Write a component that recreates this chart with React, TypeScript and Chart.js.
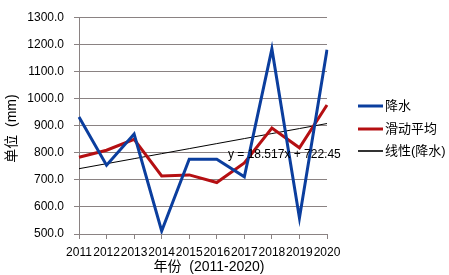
import React, { useEffect, useRef } from "react";
import { Chart, registerables } from "chart.js";

Chart.register(...registerables);

const years = ["2011", "2012", "2013", "2014", "2015", "2016", "2017", "2018", "2019", "2020"];
const precipitation = [932, 754, 869, 511, 776, 776, 711, 1183, 559, 1180];
const movingAverage = [783, 809, 849, 714, 718, 690, 762, 891, 818, 976];
const trendSlope = 18.517;
const trendIntercept = 722.45;
const seriesLabels = ["降水", "滑动平均", "线性(降水)"];
const seriesColors = ["#0B3E9E", "#B50F12", "#000000"];
const yTitle = "单位  (mm)";
const xTitle = "年份  (2011-2020)";

const FONT = "'Liberation Sans', Arial, 'Noto Sans CJK SC', sans-serif";
const GRID = "#8a8282";

export default function App() {
  const ref = useRef<HTMLCanvasElement | null>(null);
  useEffect(() => {
    if (!ref.current) return;
    const trend = years.map((_, i) => trendIntercept + trendSlope * (i + 1));
    const overlay = {
      id: "overlay",
      afterDraw(chart: any) {
        const ctx = chart.ctx as CanvasRenderingContext2D;
        const area = chart.chartArea;
        ctx.save();
        ctx.fillStyle = "#000";
        ctx.font = `14px ${FONT}`;
        ctx.textAlign = "center";
        ctx.textBaseline = "middle";
        ctx.fillText(xTitle, 209, 267);
        ctx.save();
        ctx.translate(12, (area.top + area.bottom) / 2 + 3);
        ctx.rotate(-Math.PI / 2);
        ctx.fillText(yTitle, 0, 0);
        ctx.restore();
        ctx.font = `12px ${FONT}`;
        ctx.textAlign = "left";
        ctx.fillText(`y = ${trendSlope}x + ${trendIntercept}`, 228, 155);
        ctx.font = `13px ${FONT}`;
        const ys = [106, 129, 151];
        seriesLabels.forEach((lab, i) => {
          ctx.strokeStyle = i === 2 ? "#333" : seriesColors[i];
          ctx.lineWidth = i === 2 ? 2 : 3;
          ctx.beginPath();
          ctx.moveTo(358, ys[i]);
          ctx.lineTo(383, ys[i]);
          ctx.stroke();
          ctx.fillStyle = "#000";
          ctx.fillText(lab, 385, ys[i]);
        });
        ctx.restore();
      },
    };
    const chart = new Chart(ref.current, {
      type: "line",
      data: {
        labels: years,
        datasets: [
          { label: seriesLabels[0], data: precipitation, borderColor: seriesColors[0], borderWidth: 3, pointRadius: 0, tension: 0 },
          { label: seriesLabels[1], data: movingAverage, borderColor: seriesColors[1], borderWidth: 3, pointRadius: 0, tension: 0 },
          { label: seriesLabels[2], data: trend, borderColor: seriesColors[2], borderWidth: 1, pointRadius: 0, tension: 0 },
        ],
      },
      options: {
        animation: false,
        responsive: false,
        layout: { padding: { top: 9, right: 122, left: 0, bottom: 0 } },
        plugins: { legend: { display: false }, tooltip: { enabled: false } },
        scales: {
          x: {
            type: "category",
            offset: false,
            grid: { display: true, drawOnChartArea: false, drawTicks: true, tickLength: 5, color: GRID },
            border: { color: GRID, width: 1 },
            ticks: { font: { size: 12, family: FONT }, color: "#000", padding: 6, maxRotation: 0, autoSkip: false },
            afterFit(scale: any) {
              scale.height = 41;
            },
          },
          y: {
            min: 500,
            max: 1300,
            grid: { color: GRID, lineWidth: 1, tickLength: 5 },
            border: { color: GRID, width: 1 },
            ticks: {
              stepSize: 100,
              font: { size: 12, family: FONT },
              color: "#000",
              padding: 10,
              callback: (v: any) => Number(v).toFixed(1),
            },
            afterFit(scale: any) {
              scale.width = 79;
            },
          },
        },
      },
      plugins: [overlay],
    });
    return () => chart.destroy();
  }, []);
  return (
    <div style={{ position: "absolute", left: 0, top: 0, width: 449, height: 275, background: "#fff" }}>
      <canvas ref={ref} width={449} height={275} style={{ width: 449, height: 275 }} />
    </div>
  );
}
